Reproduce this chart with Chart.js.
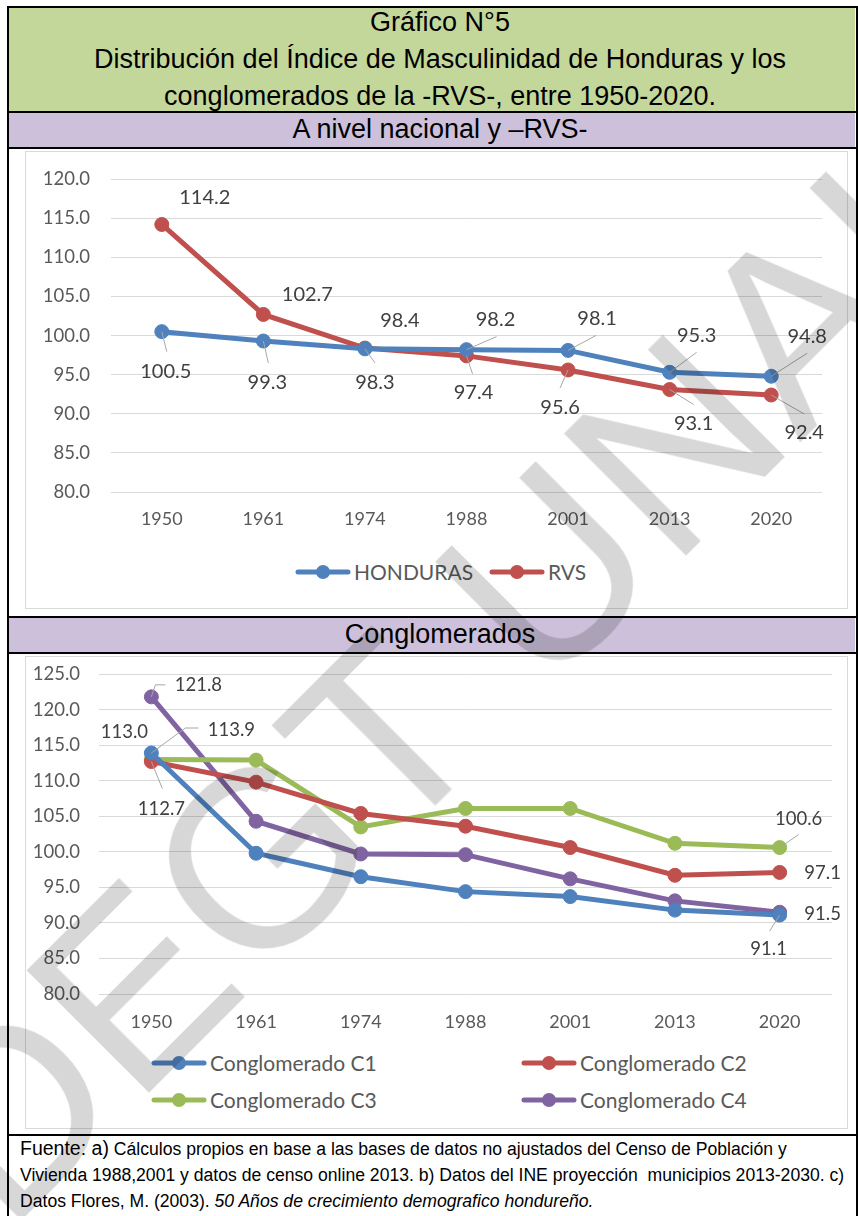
<!DOCTYPE html>
<html>
<head>
<meta charset="utf-8">
<script src="https://cdn.jsdelivr.net/npm/chart.js@4.4.1/dist/chart.umd.min.js"></script>
<style>
  body { margin: 0; width: 858px; height: 1216px; position: relative; overflow: hidden; background: #fff; font-family: "Liberation Sans", Arial, sans-serif; }
  .abs { position: absolute; }
  .band { position: absolute; left: 9px; width: 846px; color: #000; font-size: 27px; }
  .txt { left: 17px; text-align: center; }
  .hline { position: absolute; left: 7px; width: 851px; height: 2px; background: #000; }
  .vline { position: absolute; top: 6px; width: 2px; height: 1210px; background: #000; }
  .panel { position: absolute; left: 25px; width: 821px; border: 1px solid #d9d9d9; background: #fff; }
  .legItem { position: absolute; display: flex; align-items: center; font-family: Lato, "Open Sans", sans-serif; font-size: 21px; color: #595959; white-space: nowrap; }
  .legItem svg { margin-right: 3px; }
  .foot { position: absolute; left: 20px; line-height: 26px; font-family: "Liberation Sans Narrow", "Liberation Sans", sans-serif; font-size: 17.6px; color: #000; white-space: nowrap; }
  .foot b { font-weight: normal; font-size: 19.5px; }
  .mark { position: absolute; left: 465px; top: 655px; width: 0; height: 0; pointer-events: none; mix-blend-mode: multiply; }
  .mark span { position: absolute; left: 0; top: 0; transform: translate(-50%, -50%) rotate(-45deg); font-family: "Liberation Sans", Arial, sans-serif; font-size: 250px; line-height: 1; color: #d7d7d7; white-space: nowrap; }
</style>
</head>
<body>

<div class="band" style="top:8px;height:103px;background:#c4d79b;"></div>
<div class="band txt" style="top:4px;line-height:37px;">
  Gráfico N°5<br>Distribución del Índice de Masculinidad de Honduras y los<br>conglomerados de la -RVS-, entre 1950-2020.
</div>
<div class="hline" style="top:6px;"></div>
<div class="hline" style="top:111px;"></div>
<div class="band" style="top:113px;height:34px;background:#ccc0da;"></div>
<div class="band txt" style="top:113px;line-height:33px;">A nivel nacional y –RVS-</div>
<div class="hline" style="top:147px;"></div>

<div class="panel" style="top:151px;height:456px;"></div>
<div class="abs" style="left:25px;top:147px;width:823px;height:397px;"><canvas id="chartTop"></canvas></div>
<div id="legTop"></div>

<div class="hline" style="top:616px;"></div>
<div class="band" style="top:618px;height:34px;background:#ccc0da;"></div>
<div class="band txt" style="top:618px;line-height:33px;">Conglomerados</div>
<div class="hline" style="top:652px;"></div>

<div class="panel" style="top:656px;height:471px;"></div>
<div class="abs" style="left:25px;top:644px;width:823px;height:396px;"><canvas id="chartBottom"></canvas></div>
<div id="legBottom"></div>

<div class="hline" style="top:1134px;"></div>
<div class="foot" style="top:1135px;"><b>Fuente: a)</b> Cálculos propios en base a las bases de datos no ajustados del Censo de Población y</div>
<div class="foot" style="top:1162px;">Vivienda 1988,2001 y datos de censo online 2013. b) Datos del INE proyección&nbsp; municipios 2013-2030. c)</div>
<div class="foot" style="top:1188px;">Datos Flores, M. (2003). <i>50 Años de crecimiento demografico hondureño.</i></div>

<div class="vline" style="left:7px;"></div>
<div class="vline" style="left:856px;"></div>

<div class="mark"><span>DEGT UNAH</span></div>

<script>
const years = ['1950', '1961', '1974', '1988', '2001', '2013', '2020'];

const honduras = [100.5, 99.3, 98.3, 98.2, 98.1, 95.3, 94.8];
const rvs = [114.2, 102.7, 98.4, 97.4, 95.6, 93.1, 92.4];

const conglomC1 = [113.9, 99.8, 96.5, 94.4, 93.7, 91.8, 91.1];
const conglomC2 = [112.7, 109.8, 105.4, 103.6, 100.6, 96.7, 97.1];
const conglomC3 = [113.0, 112.9, 103.5, 106.1, 106.1, 101.2, 100.6];
const conglomC4 = [121.8, 104.3, 99.7, 99.6, 96.2, 93.1, 91.5];

const topAxis = { min: 80, max: 120, step: 5 };
const bottomAxis = { min: 80, max: 125, step: 5 };

const BLUE = '#4f81bd', RED = '#c0504d', GREEN = '#9bbb59', PURPLE = '#8064a2';
const CHART_FONT = 'Lato, "Open Sans", sans-serif';

// where each value label sits relative to its point: [dx, dy, leader points]
const placeHonduras = [
  [4, 40, [[5, 20]]], [4, 42, [[5, 22]]], [10, 34, [[10, 14]]],
  [29, -30, [[30, -13]]], [29, -32, [[28, -15]]], [27, -37, [[27, -20]]], [36, -40, [[36, -23]]]
];
const placeRvs = [
  [43, -27], [44, -20], [35, -28],
  [7, 37, [[6, 18]]], [-8, 38, [[-8, 18]]], [24, 34, [[24, 15]]], [33, 38, [[33, 19]]]
];
// only first and last year are labelled in the lower chart
const placeC1 = [[80, -23, [[34, -25], [47, -25]]]];
placeC1[6] = [-11, 34, [[-10, 16]]];
const placeC2 = [[10, 47, [[11, 27]]]];
placeC2[6] = [43, 1];
const placeC3 = [[-27, -27]];
placeC3[6] = [19, -29, [[19, -13]]];
const placeC4 = [[47, -12, [[4, -12], [14, -12]]]];
placeC4[6] = [43, 2];

const valueLabels = {
  id: 'valueLabels',
  afterDatasetsDraw(chart, args, opts) {
    const ctx = chart.ctx;
    ctx.save();
    chart.data.datasets.forEach((ds, i) => {
      const meta = chart.getDatasetMeta(i);
      const places = ds.places || [];
      meta.data.forEach((pt, j) => {
        const p = places[j];
        if (!p || !p[2]) return;
        ctx.strokeStyle = '#a6a6a6';
        ctx.lineWidth = 1;
        ctx.beginPath();
        ctx.moveTo(pt.x, pt.y);
        p[2].forEach(q => ctx.lineTo(pt.x + q[0], pt.y + q[1]));
        ctx.stroke();
      });
    });
    ctx.fillStyle = '#404040';
    ctx.font = opts.size + 'px ' + CHART_FONT;
    ctx.textAlign = 'center';
    ctx.textBaseline = 'middle';
    chart.data.datasets.forEach((ds, i) => {
      const meta = chart.getDatasetMeta(i);
      const places = ds.places || [];
      meta.data.forEach((pt, j) => {
        const p = places[j];
        if (!p) return;
        ctx.fillText(ds.data[j].toFixed(1), pt.x + p[0], pt.y + p[1]);
      });
    });
    ctx.restore();
  }
};

function series(label, data, color, places) {
  return {
    label: label, data: data, places: places,
    borderColor: color, backgroundColor: color,
    borderWidth: 5, pointRadius: 7, pointHoverRadius: 7,
    pointBackgroundColor: color, pointBorderColor: color, pointBorderWidth: 1,
    tension: 0
  };
}

function makeChart(id, datasets, axis, box) {
  return new Chart(document.getElementById(id), {
    type: 'line',
    data: { labels: years, datasets: datasets },
    plugins: [valueLabels],
    options: {
      responsive: true,
      maintainAspectRatio: false,
      animation: false,
      layout: { padding: { top: 0, right: box.right, left: 0, bottom: 0 } },
      plugins: {
        legend: { display: false },
        tooltip: { enabled: false },
        valueLabels: { size: box.labelSize }
      },
      scales: {
        x: {
          offset: true,
          grid: { display: false, drawTicks: false },
          border: { display: false },
          ticks: { color: '#595959', font: { family: CHART_FONT, size: 18 }, padding: box.xPad },
          afterFit: s => { s.height = box.xHeight; }
        },
        y: {
          min: axis.min, max: axis.max,
          grid: { color: '#d9d9d9', lineWidth: 1, drawTicks: false },
          border: { display: false },
          ticks: {
            stepSize: axis.step, color: '#595959', padding: box.yPad,
            font: { family: CHART_FONT, size: 18.5 },
            callback: v => Number(v).toFixed(1)
          },
          afterFit: s => { s.width = box.yWidth; }
        }
      }
    }
  });
}

makeChart('chartTop', [
  series('HONDURAS', honduras, BLUE, placeHonduras),
  series('RVS', rvs, RED, placeRvs)
], topAxis, { right: 26, yWidth: 86, yPad: 21, xHeight: 52, xPad: 16, labelSize: 20 });

makeChart('chartBottom', [
  series('Conglomerado C1', conglomC1, BLUE, placeC1),
  series('Conglomerado C2', conglomC2, RED, placeC2),
  series('Conglomerado C3', conglomC3, GREEN, placeC3),
  series('Conglomerado C4', conglomC4, PURPLE, placeC4)
], bottomAxis, { right: 16, yWidth: 74, yPad: 19, xHeight: 46, xPad: 17, labelSize: 18.5 });

// legends drawn as html, the way excel lays them out
function legendItem(parent, text, color, left, top) {
  const d = document.createElement('div');
  d.className = 'legItem';
  d.style.left = left + 'px';
  d.style.top = top + 'px';
  d.innerHTML = '<svg width="56" height="20"><line x1="3" y1="10" x2="53" y2="10" stroke="' + color +
    '" stroke-width="5" stroke-linecap="round"/><circle cx="28" cy="10" r="7" fill="' + color + '"/></svg>' +
    '<span>' + text + '</span>';
  document.getElementById(parent).appendChild(d);
}
legendItem('legTop', 'HONDURAS', BLUE, 295, 559);
legendItem('legTop', 'RVS', RED, 489, 559);
legendItem('legBottom', 'Conglomerado C1', BLUE, 151, 1050);
legendItem('legBottom', 'Conglomerado C2', RED, 521, 1050);
legendItem('legBottom', 'Conglomerado C3', GREEN, 151, 1087);
legendItem('legBottom', 'Conglomerado C4', PURPLE, 521, 1087);
</script>
</body>
</html>
